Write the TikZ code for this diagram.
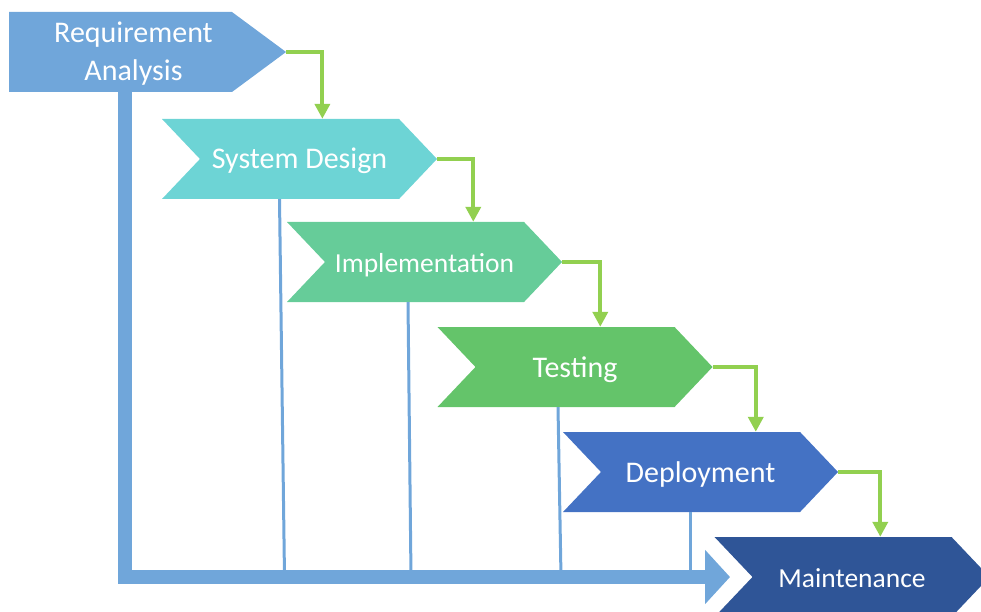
\documentclass[tikz,border=0pt]{standalone}
\usepackage{fontspec}
\setmainfont{Carlito}
\usetikzlibrary{shapes.symbols,arrows.meta}

\definecolor{reqblue}{HTML}{70A6DA}
\definecolor{designcyan}{HTML}{6DD4D5}
\definecolor{implgreen}{HTML}{66CC99}
\definecolor{testgreen}{HTML}{64C46A}
\definecolor{deployblue}{HTML}{4472C4}
\definecolor{maintblue}{HTML}{2F5597}
\definecolor{flowgreen}{HTML}{92D050}

\begin{document}
\begin{tikzpicture}[x=1pt,y=-1pt,
        font=\fontsize{30}{37.7}\selectfont,
        stage/.style={signal,signal to=east,signal from=west,signal pointer angle=93,
            minimum width=275pt,minimum height=80pt,inner sep=0pt,text=white,draw=none,
            text height=22pt,text depth=2pt},
        small/.style={font=\fontsize{27.5}{33}\selectfont},
        flow/.style={draw=flowgreen,line width=4pt,-{Triangle[length=15pt,width=15pt]}},
        tie/.style={draw=reqblue,line width=3pt},
        bar/.style={draw=reqblue,line width=14pt,-{Triangle[length=25pt,width=53pt]}}]

    \useasboundingbox (0,0) rectangle (981,612);
    \clip (0,0) rectangle (981,612);

    % the stages
    \node[signal,signal to=east,signal pointer angle=73,minimum width=277pt,minimum height=80pt,
        inner sep=0pt,text=white,fill=reqblue,align=center,text depth=2pt] (ra) at (120.5,52)
        {\hspace*{26pt}Requirement\\\hspace*{26pt}Analysis};
    \node[stage,fill=designcyan] (sd) at (299.5,159) {System Design};
    \node[stage,small,fill=implgreen] (impl) at (424.5,262) {Implementation};
    \node[stage,fill=testgreen] (test) at (575,367) {Testing};
    \node[stage,fill=deployblue] (deploy) at (700.5,472) {Deployment};
    \node[stage,small,fill=maintblue] (maint) at (852,577) {Maintenance};

    \coordinate (elbow) at (125,577);
    \coordinate (goal) at (730,577);

    % steps down
    \foreach \a/\b/\d in {ra/sd/36,sd/impl/36,impl/test/38,test/deploy/43,deploy/maint/42}
        \draw[flow] (\a.east) -| ([xshift=\d pt]\a.east |- \b.north);

    % feedback lines
    \draw[tie] ([xshift=-20pt]sd.south) -- ([xshift=-15pt]sd.south |- elbow);
    \draw[tie] ([xshift=-16.5pt]impl.south) -- ([xshift=-13.5pt]impl.south |- elbow);
    \draw[tie] ([xshift=-17pt]test.south) -- ([xshift=-14pt]test.south |- elbow);
    \draw[tie] ([xshift=-10.5pt]deploy.south) -- ([xshift=-10.5pt]deploy.south |- elbow);

    \draw[bar] (ra.south -| elbow) -- (elbow) -- (goal);
\end{tikzpicture}
\end{document}
